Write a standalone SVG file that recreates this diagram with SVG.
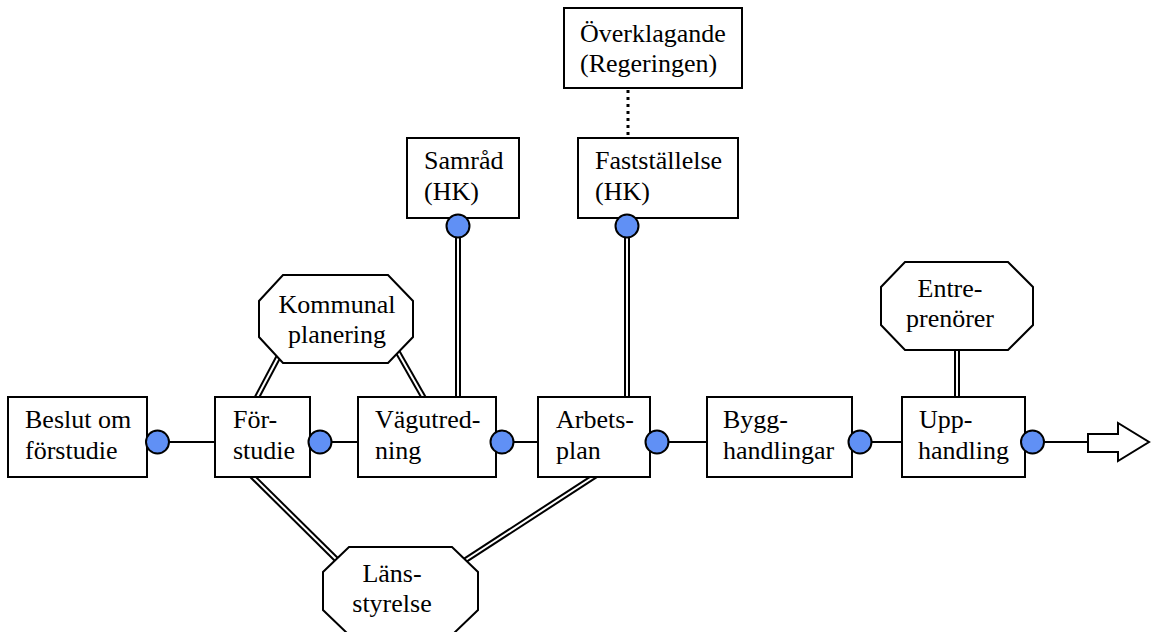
<svg xmlns="http://www.w3.org/2000/svg" width="1153" height="632" viewBox="0 0 1153 632">
<style>
  .box { fill: #ffffff; stroke: #000000; stroke-width: 2; }
  .oct { fill: #ffffff; stroke: #000000; stroke-width: 2; }
  .lbl { font-family: "Liberation Serif", "Times New Roman", serif; font-size: 26px; fill: #000000; }
  .mid { text-anchor: middle; }
  .single { stroke: #000000; stroke-width: 2; fill: none; }
  .dbl-outer { stroke: #000000; stroke-width: 6; fill: none; }
  .dbl-inner { stroke: #ffffff; stroke-width: 2; fill: none; }
  .dotted { stroke: #000000; stroke-width: 3; stroke-dasharray: 3 4; fill: none; }
  .port { fill: #6090f5; stroke: #000000; stroke-width: 2; }
</style>
<rect x="0" y="0" width="1153" height="632" fill="#ffffff"/>

<g id="connectors">
  <!-- main flow single lines -->
  <line class="single" x1="169" y1="442" x2="215" y2="442"/>
  <line class="single" x1="332" y1="442" x2="358" y2="442"/>
  <line class="single" x1="514" y1="442" x2="538" y2="442"/>
  <line class="single" x1="669" y1="442" x2="707" y2="442"/>
  <line class="single" x1="872" y1="442" x2="902" y2="442"/>
  <line class="single" x1="1044" y1="442" x2="1088" y2="442"/>
  <!-- dotted -->
  <line class="dotted" x1="628" y1="90" x2="628" y2="137"/>
  <!-- double lines -->
  <g id="dbl">
    <line class="dbl-outer" x1="255" y1="401" x2="281" y2="352"/>
    <line class="dbl-outer" x1="396" y1="349" x2="425" y2="400"/>
    <line class="dbl-outer" x1="458" y1="226" x2="458" y2="400"/>
    <line class="dbl-outer" x1="627" y1="226" x2="627" y2="400"/>
    <line class="dbl-outer" x1="250" y1="474" x2="341" y2="564"/>
    <line class="dbl-outer" x1="598" y1="474" x2="461" y2="563"/>
    <line class="dbl-outer" x1="957" y1="345" x2="957" y2="400"/>
    <line class="dbl-inner" x1="255" y1="401" x2="281" y2="352"/>
    <line class="dbl-inner" x1="396" y1="349" x2="425" y2="400"/>
    <line class="dbl-inner" x1="458" y1="226" x2="458" y2="400"/>
    <line class="dbl-inner" x1="627" y1="226" x2="627" y2="400"/>
    <line class="dbl-inner" x1="250" y1="474" x2="341" y2="564"/>
    <line class="dbl-inner" x1="598" y1="474" x2="461" y2="563"/>
    <line class="dbl-inner" x1="957" y1="345" x2="957" y2="400"/>
  </g>
  <!-- end arrow -->
  <polygon class="box" points="1088,434 1118,434 1118,423 1149,442 1118,461 1118,452 1088,452"/>
</g>

<g id="beslut">
  <rect class="box" x="8" y="397" width="139" height="80"/>
  <text class="lbl" x="25" y="428">Beslut om</text>
  <text class="lbl" x="25" y="459">förstudie</text>
</g>
<g id="forstudie">
  <rect class="box" x="215" y="397" width="95" height="80"/>
  <text class="lbl" x="233" y="428">För-</text>
  <text class="lbl" x="233" y="459">studie</text>
</g>
<g id="vagutredning">
  <rect class="box" x="358" y="397" width="138" height="80"/>
  <text class="lbl" x="375" y="428">Vägutred-</text>
  <text class="lbl" x="375" y="459">ning</text>
</g>
<g id="arbetsplan">
  <rect class="box" x="538" y="397" width="112" height="80"/>
  <text class="lbl" x="556" y="428">Arbets-</text>
  <text class="lbl" x="556" y="459">plan</text>
</g>
<g id="bygghandlingar">
  <rect class="box" x="707" y="397" width="145" height="80"/>
  <text class="lbl" x="723" y="428">Bygg-</text>
  <text class="lbl" x="723" y="459">handlingar</text>
</g>
<g id="upphandling">
  <rect class="box" x="902" y="397" width="123" height="80"/>
  <text class="lbl" x="919" y="428">Upp-</text>
  <text class="lbl" x="918" y="459">handling</text>
</g>
<g id="samrad">
  <rect class="box" x="407" y="138" width="112" height="80"/>
  <text class="lbl" x="424" y="169">Samråd</text>
  <text class="lbl" x="424" y="200">(HK)</text>
</g>
<g id="faststallelse">
  <rect class="box" x="578" y="138" width="160" height="80"/>
  <text class="lbl" x="595" y="169">Fastställelse</text>
  <text class="lbl" x="595" y="200">(HK)</text>
</g>
<g id="overklagande">
  <rect class="box" x="564" y="8" width="178" height="80"/>
  <text class="lbl" x="580" y="42">Överklagande</text>
  <text class="lbl" x="580" y="72">(Regeringen)</text>
</g>
<g id="kommunal">
  <polygon class="oct" points="283,275 388,275 413,301 413,337 388,363 283,363 259,337 259,301"/>
  <text class="lbl mid" x="337" y="313">Kommunal</text>
  <text class="lbl mid" x="337" y="343">planering</text>
</g>
<g id="entreprenorer">
  <polygon class="oct" points="905,262 1008,262 1033,287 1033,325 1008,350 905,350 881,325 881,287"/>
  <text class="lbl mid" x="950" y="297">Entre-</text>
  <text class="lbl mid" x="950" y="327">prenörer</text>
</g>
<g id="lansstyrelse">
  <polygon class="oct" points="349,547 452,547 478,572 478,610 452,635 349,635 323,610 323,572"/>
  <text class="lbl mid" x="392" y="582">Läns-</text>
  <text class="lbl mid" x="392" y="612">styrelse</text>
</g>

<g id="ports">
  <circle class="port" cx="157.5" cy="442" r="11.5"/>
  <circle class="port" cx="320" cy="442" r="11.5"/>
  <circle class="port" cx="502" cy="442" r="11.5"/>
  <circle class="port" cx="657" cy="442" r="11.5"/>
  <circle class="port" cx="860" cy="442" r="11.5"/>
  <circle class="port" cx="1032.5" cy="442" r="11.5"/>
  <circle class="port" cx="458" cy="226" r="11.5"/>
  <circle class="port" cx="627" cy="226" r="11.5"/>
</g>
</svg>
